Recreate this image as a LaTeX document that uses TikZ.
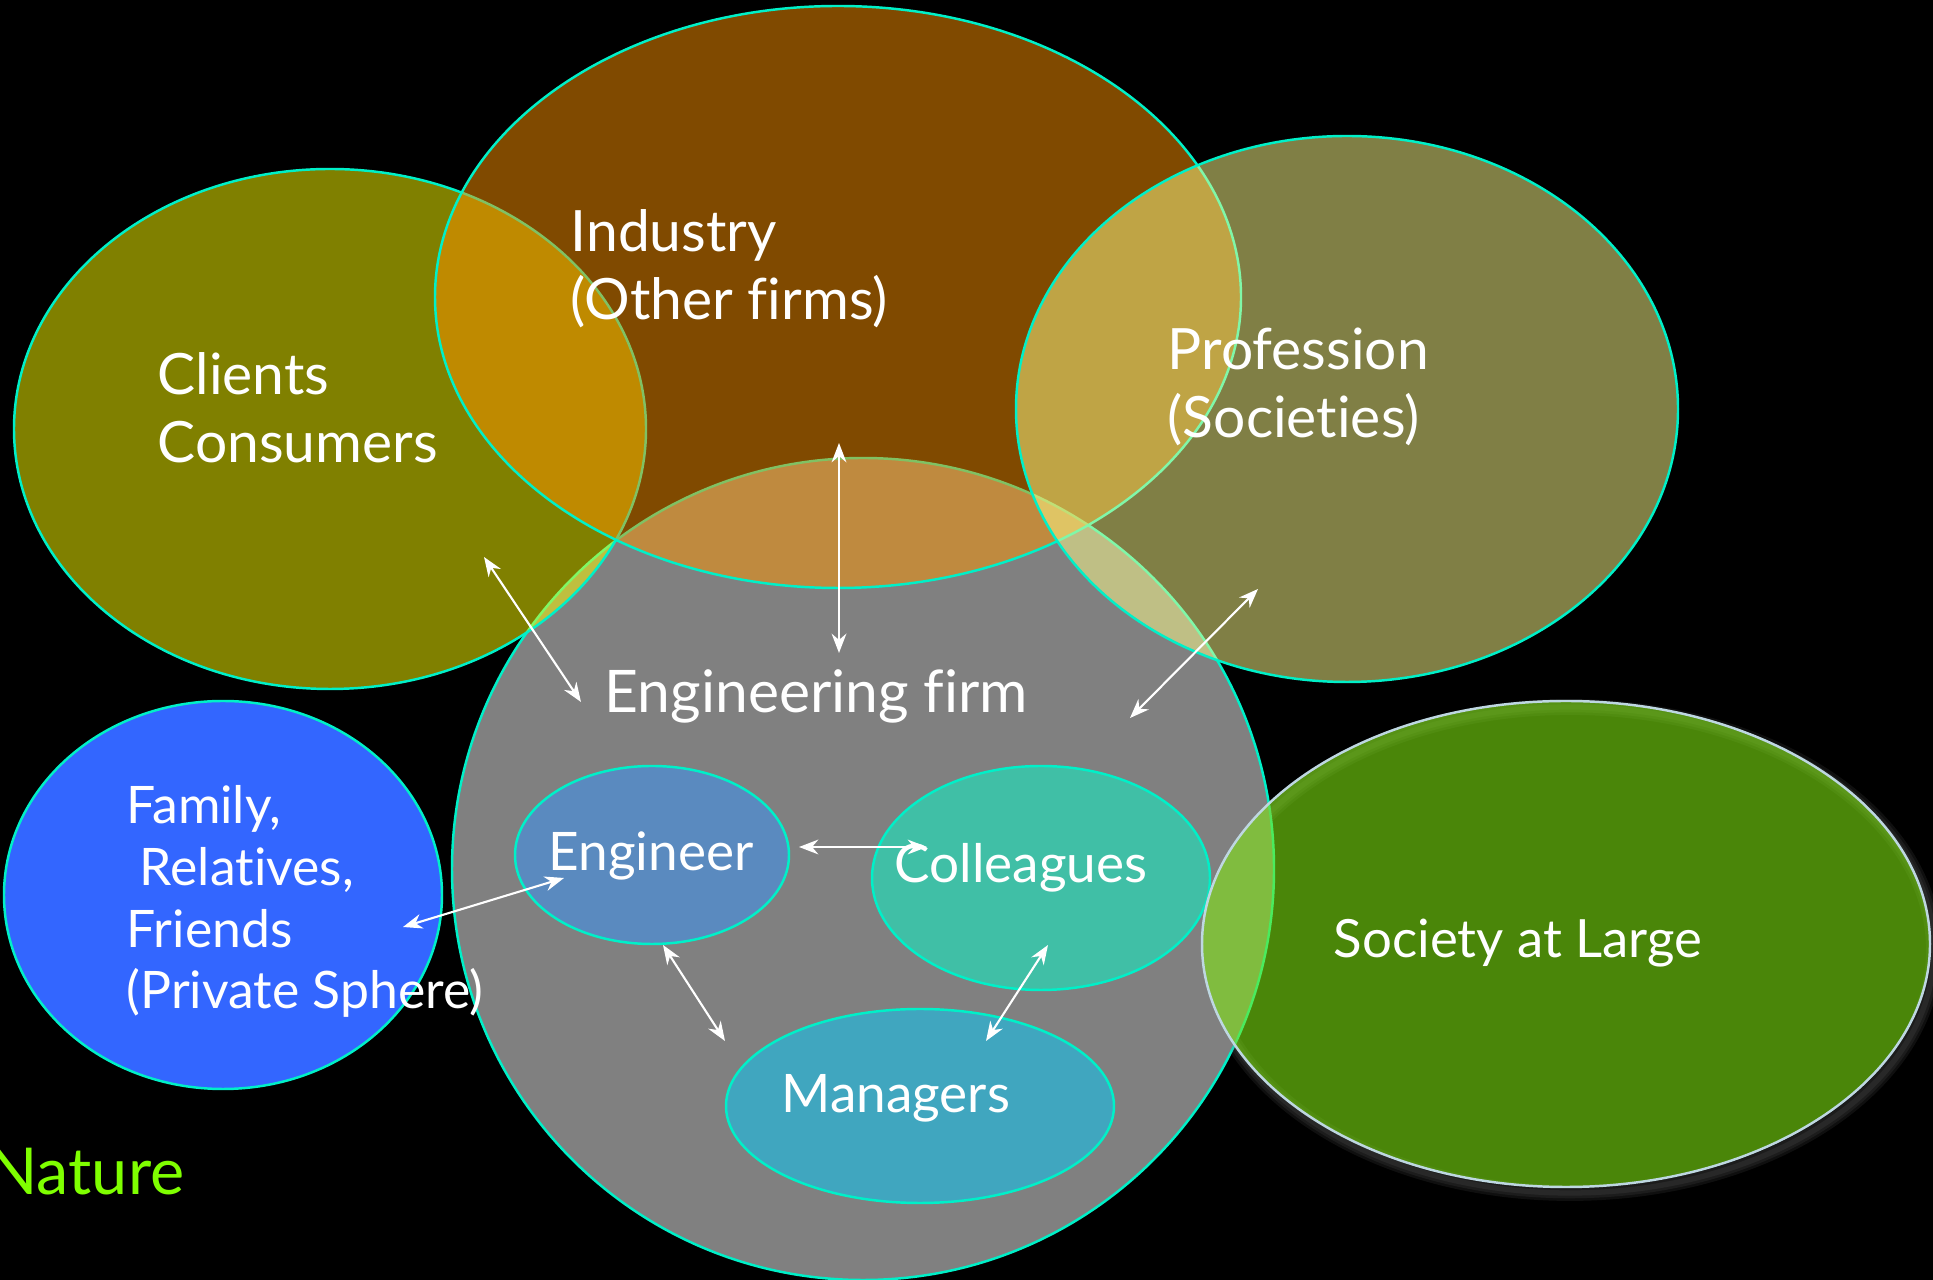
\documentclass[tikz,border=0pt]{standalone}
\usepackage{fontspec}
\setmainfont{Lato}[Ligatures=NoCommon]
\usepackage{xcolor}
\usetikzlibrary{arrows.meta}

\definecolor{rim}{RGB}{0,240,200}
\definecolor{firmgray}{RGB}{128,128,128}
\definecolor{clientyellow}{RGB}{255,255,0}
\definecolor{industryorange}{RGB}{255,148,0}
\definecolor{professionkhaki}{RGB}{255,254,138}
\definecolor{societygreen}{RGB}{128,232,17}
\definecolor{societyrim}{RGB}{190,215,225}
\definecolor{familyblue}{RGB}{51,102,255}
\definecolor{engineerblue}{RGB}{90,138,191}
\definecolor{colleaguegreen}{RGB}{64,191,166}
\definecolor{managerblue}{RGB}{64,166,191}
\definecolor{naturegreen}{RGB}{127,255,0}

\begin{document}
\begin{tikzpicture}
                     [x=0.01cm,y=-0.01cm,
                      blob/.style={draw=rim,line width=0.7pt},
                      bigtext/.style={text=white,anchor=base west,inner sep=0pt,align=left,
                        font=\fontsize{16.2}{19.6}\selectfont},
                      smalltext/.style={bigtext,font=\fontsize{15.1}{17.6}\selectfont},
                      link/.style={white,line width=0.6pt,
                        {Stealth[length=5.5pt,width=4.2pt]}-{Stealth[length=5.5pt,width=4.2pt]}}]
                     \useasboundingbox (0,0) rectangle (1933,1280);
                     \clip (0,0) rectangle (1933,1280);
                     \fill[black] (0,0) rectangle (1933,1280);
                     % circles
                     \filldraw[blob,fill=firmgray] (863,869) ellipse [x radius=411,y radius=411];
                     \filldraw[blob,fill=clientyellow,fill opacity=0.5] (330,429) ellipse [x radius=316,y radius=260];
                     \filldraw[blob,fill=industryorange,fill opacity=0.5] (838,297) ellipse [x radius=403,y radius=291];
                     \filldraw[blob,fill=professionkhaki,fill opacity=0.5] (1347,409) ellipse [x radius=331,y radius=273];
                     \filldraw[blob,fill=familyblue] (223,895) ellipse [x radius=219,y radius=194];
                     \filldraw[blob,fill=engineerblue] (652,855) ellipse [x radius=137,y radius=89];
                     \filldraw[blob,fill=colleaguegreen] (1041,878) ellipse [x radius=169,y radius=112];
                     \filldraw[blob,fill=managerblue] (920,1106) ellipse [x radius=194,y radius=97];
                     \foreach \w in {1.5,3,4.5}
                       \draw[gray,opacity=0.12,line width=\w pt] (1570,950) ellipse [x radius=364,y radius=243];
                     \filldraw[draw=societyrim,line width=0.7pt,fill=societygreen,fill opacity=0.58]
                       (1566,944) ellipse [x radius=364,y radius=243];
                     % texts
                     \node[bigtext] (ind) at (570,320) {Industry\\(Other firms)};
                     \node[bigtext] (cli) at (157,463) {Clients\\Consumers};
                     \node[bigtext] (pro) at (1167,438) {Profession\\(Societies)};
                     \node[bigtext,font=\fontsize{16.7}{19.6}\selectfont] (fir) at (604,713) {Engineering firm};
                     \node[bigtext,font=\fontsize{15}{19.6}\selectfont] (soc) at (1333,958) {Society at Large};
                     \node[smalltext,font=\fontsize{14.7}{17.6}\selectfont] (fam) at (126,1009)
                       {Family,\\\ Relatives,\\Friends\\(Private Sphere)};
                     \node[smalltext] (eng) at (548,871) {Engineer};
                     \node[smalltext] (col) at (894,883) {Colleagues};
                     \node[smalltext] (man) at (781,1113) {Managers};
                     \node[bigtext,anchor=base east,text=naturegreen,font=\fontsize{18.4}{20}\selectfont]
                       (nat) at (185,1195) {Nature};
                     % arrows
                     \coordinate (cliA) at (484,557);  \coordinate (firA) at (581,702);
                     \coordinate (indA) at (839,443);  \coordinate (firB) at (839,653);
                     \coordinate (proA) at (1258,589); \coordinate (firC) at (1130,718);
                     \coordinate (famA) at (403,927);  \coordinate (engA) at (564,878);
                     \coordinate (engB) at (799,847);  \coordinate (colA) at (927,847);
                     \coordinate (engC) at (663,945);  \coordinate (manA) at (725,1041);
                     \coordinate (colB) at (1048,945); \coordinate (manB) at (986,1041);
                     \foreach \from/\to in {cliA/firA, indA/firB, proA/firC, famA/engA,
                       engB/colA, engC/manA, colB/manB}
                        \draw[link] (\from) -- (\to);
                   \end{tikzpicture}
\end{document}
